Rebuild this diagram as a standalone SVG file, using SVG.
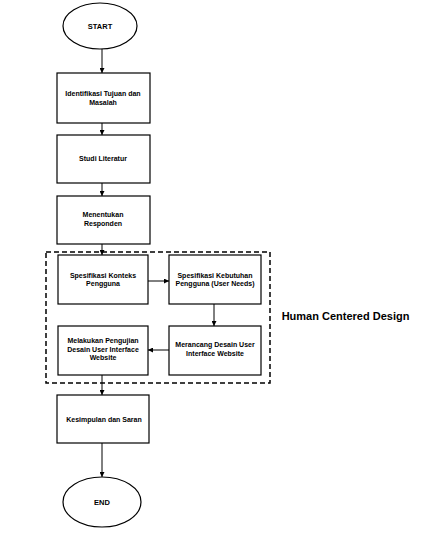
<svg xmlns="http://www.w3.org/2000/svg" width="421" height="536" viewBox="0 0 421 536">
<defs>
<style>
.box{fill:#fff;stroke:#000;stroke-width:1.2}
.t{font-family:"Liberation Sans",Arial,sans-serif;font-size:7px;font-weight:bold;fill:#000;text-anchor:middle}
.tb{font-family:"Liberation Sans",Arial,sans-serif;font-size:7.5px;font-weight:bold;fill:#000;text-anchor:middle}
.c{fill:none;stroke:#000;stroke-width:1}
</style>
<marker id="ah" viewBox="0 0 10 10" refX="10" refY="5" markerWidth="5" markerHeight="5" orient="auto">
<path d="M0,0 L10,5 L0,10 z" fill="#000"/>
</marker>
</defs>
<rect width="421" height="536" fill="#fff"/>
<g id="hcd-group">
<rect x="46" y="252" width="224" height="131" fill="none" stroke="#000" stroke-width="1.5" stroke-dasharray="5,3"/>
<text x="345.5" y="320" font-family="'Liberation Sans',Arial,sans-serif" font-size="11" font-weight="bold" text-anchor="middle">Human Centered Design</text>
</g>
<g id="connectors">
<line class="c" x1="102" y1="49" x2="102" y2="73" marker-end="url(#ah)"/>
<line class="c" x1="102" y1="123" x2="102" y2="135" marker-end="url(#ah)"/>
<line class="c" x1="102" y1="183" x2="102" y2="196" marker-end="url(#ah)"/>
<line class="c" x1="102" y1="244" x2="102" y2="255" marker-end="url(#ah)"/>
<line class="c" x1="148" y1="281" x2="169" y2="281" marker-end="url(#ah)"/>
<line class="c" x1="214" y1="304" x2="214" y2="326" marker-end="url(#ah)"/>
<line class="c" x1="169" y1="350" x2="148" y2="350" marker-end="url(#ah)"/>
<line class="c" x1="102" y1="375" x2="102" y2="395" marker-end="url(#ah)"/>
<line class="c" x1="102" y1="443" x2="102" y2="477" marker-end="url(#ah)"/>
</g>
<g id="start">
<ellipse class="box" cx="100" cy="26" rx="37" ry="23"/>
<text class="tb" x="100" y="29">START</text>
</g>
<g id="n1">
<rect class="box" x="57" y="73" width="93" height="50"/>
<text class="t" x="103" y="96">Identifikasi Tujuan dan</text>
<text class="t" x="103" y="105">Masalah</text>
</g>
<g id="n2">
<rect class="box" x="57" y="135" width="93" height="48"/>
<text class="t" x="103" y="161">Studi Literatur</text>
</g>
<g id="n3">
<rect class="box" x="57" y="196" width="93" height="48"/>
<text class="t" x="103" y="217">Menentukan</text>
<text class="t" x="103" y="226">Responden</text>
</g>
<g id="n4">
<rect class="box" x="58" y="255" width="90" height="49"/>
<text class="t" x="103" y="278">Spesifikasi Konteks</text>
<text class="t" x="103" y="286">Pengguna</text>
</g>
<g id="n5">
<rect class="box" x="169" y="255" width="92" height="49"/>
<text class="t" x="215" y="278">Spesifikasi Kebutuhan</text>
<text class="t" x="215" y="286">Pengguna (User Needs)</text>
</g>
<g id="n6">
<rect class="box" x="169" y="326" width="92" height="49"/>
<text class="t" x="215" y="347">Merancang Desain User</text>
<text class="t" x="215" y="356">Interface Website</text>
</g>
<g id="n7">
<rect class="box" x="58" y="326" width="90" height="49"/>
<text class="t" x="103" y="343">Melakukan Pengujian</text>
<text class="t" x="103" y="352">Desain User Interface</text>
<text class="t" x="103" y="360">Website</text>
</g>
<g id="n8">
<rect class="box" x="57" y="395" width="92" height="48"/>
<text class="t" x="104" y="422">Kesimpulan dan Saran</text>
</g>
<g id="end">
<ellipse class="box" cx="102" cy="502" rx="39" ry="25"/>
<text class="tb" x="102" y="505">END</text>
</g>
</svg>
